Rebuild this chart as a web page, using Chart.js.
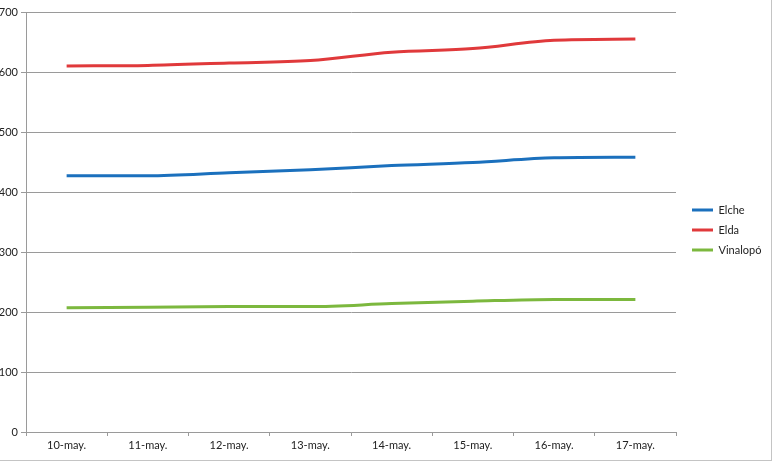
<!DOCTYPE html>
<html>
<head>
<meta charset="utf-8">
<script src="https://cdn.jsdelivr.net/npm/chart.js@4/dist/chart.umd.min.js"></script>
<style>
  html, body { margin: 0; padding: 0; background: #fff; }
  body { width: 780px; height: 468px; overflow: hidden; position: relative; }
  #marco {
    position: absolute; left: -9px; top: -9px;
    width: 780px; height: 469px;
    border-right: 1px solid #c4c4c4; border-bottom: 1px solid #c4c4c4;
  }
</style>
</head>
<body>
<div id="marco"><canvas id="grafico" width="780" height="469"></canvas></div>
<script>
// ===== DATOS =====
const fechas = ['10-may.', '11-may.', '12-may.', '13-may.', '14-may.', '15-may.', '16-may.', '17-may.'];
const elche = [427, 427, 432, 437, 444, 449, 457, 458];
const elda = [610, 611, 615, 619, 633, 639, 653, 655];
const vinalopo = [207, 208, 209, 209, 214, 218, 221, 221];
const ticksY = [0, 100, 200, 300, 400, 500, 600, 700];

const fuente = { family: 'Lato, "Liberation Sans", sans-serif', size: 11 };
const gris = '#9a9a9a';

// ajuste de la leyenda a la derecha
const leyendaFija = {
    id: 'leyendaFija',
    beforeUpdate(chart) {
        const lg = chart.legend;
        if (lg && !lg._fijada) {
            const fitOrig = lg.fit.bind(lg);
            lg.fit = function() { fitOrig(); this.width = 95; };
            lg._fijada = true;
        }
    },
    afterLayout(chart) {
        const lg = chart.legend;
        if (lg) {
            lg.left += 7; lg.right += 7;
            lg.top -= 6; lg.bottom -= 6;
        }
    }
};

const ctx = document.getElementById('grafico').getContext('2d');
new Chart(ctx, {
    type: 'line',
    data: {
        labels: fechas,
        datasets: [
            { label: 'Elche', data: elche, borderColor: '#1b70bd', backgroundColor: '#1b70bd', borderWidth: 3 },
            { label: 'Elda', data: elda, borderColor: '#e0393b', backgroundColor: '#e0393b', borderWidth: 3 },
            { label: 'Vinalopó', data: vinalopo, borderColor: '#7cb83e', backgroundColor: '#7cb83e', borderWidth: 3 }
        ]
    },
    options: {
        responsive: false,
        animation: false,
        layout: { padding: { top: 21, right: 0, bottom: 0, left: 0 } },
        elements: {
            line: { cubicInterpolationMode: 'monotone' },
            point: { radius: 0 }
        },
        plugins: {
            tooltip: { enabled: false },
            legend: {
                position: 'right',
                align: 'center',
                labels: {
                    usePointStyle: true,
                    pointStyle: 'line',
                    pointStyleWidth: 21,
                    padding: 9,
                    color: '#222',
                    font: fuente
                }
            }
        },
        scales: {
            x: {
                offset: true,
                afterFit: s => { s.height = 28; },
                grid: { offset: true, drawOnChartArea: false, drawTicks: true, tickLength: 4, color: gris },
                border: { display: true, color: gris },
                ticks: { color: '#222', font: fuente, padding: 3, maxRotation: 0 }
            },
            y: {
                min: 0,
                max: 700,
                afterFit: s => { s.width = 35; },
                afterBuildTicks: s => { s.ticks = ticksY.map(v => ({ value: v })); },
                grid: { color: gris, tickLength: 5 },
                border: { display: true, color: gris },
                ticks: { color: '#222', font: fuente, padding: 3 }
            }
        }
    },
    plugins: [leyendaFija]
});
</script>
</body>
</html>
